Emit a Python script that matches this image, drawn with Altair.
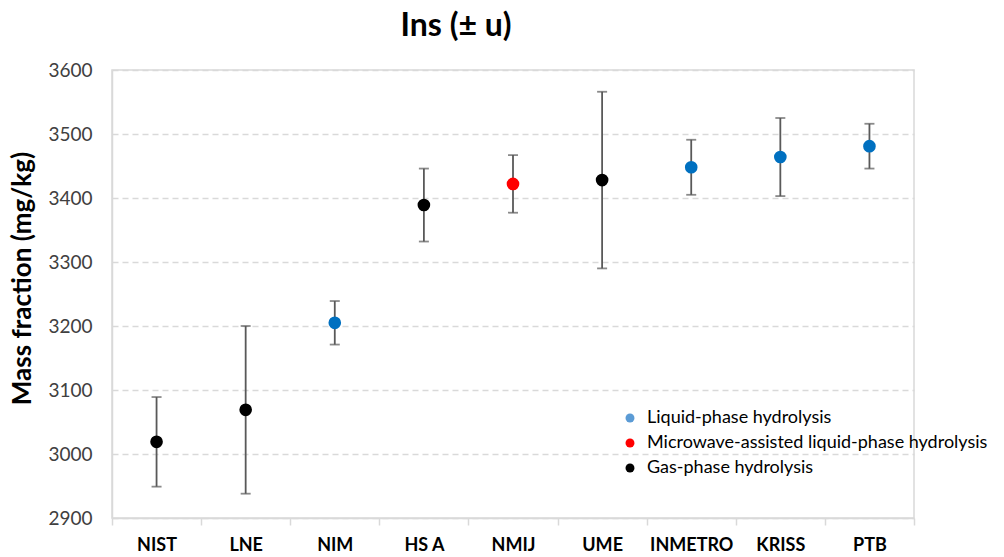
import altair as alt
import pandas as pd

labs = ["NIST", "LNE", "NIM", "HS A", "NMIJ", "UME", "INMETRO", "KRISS", "PTB"]
values = [3019, 3069, 3205, 3389, 3422, 3428, 3448, 3464, 3481]
uncert = [70, 131, 34, 57, 45, 138, 43, 61, 35]
methods = ["Gas-phase hydrolysis", "Gas-phase hydrolysis", "Liquid-phase hydrolysis",
           "Gas-phase hydrolysis", "Microwave-assisted liquid-phase hydrolysis",
           "Gas-phase hydrolysis", "Liquid-phase hydrolysis", "Liquid-phase hydrolysis",
           "Liquid-phase hydrolysis"]
method_order = ["Liquid-phase hydrolysis", "Microwave-assisted liquid-phase hydrolysis",
                "Gas-phase hydrolysis"]
point_colors = ["#0070C0", "#FF0000", "#000000"]
legend_colors = ["#5B9BD5", "#FF0000", "#000000"]

df = pd.DataFrame({"lab": labs, "value": values, "u": uncert, "method": methods})
df["low"] = df["value"] - df["u"]
df["high"] = df["value"] + df["u"]
df["pcolor"] = [point_colors[method_order.index(m)] for m in methods]

FONT = "Lato"

x = alt.X("lab:N", sort=labs, title=None,
          scale=alt.Scale(paddingInner=0, paddingOuter=0),
          axis=alt.Axis(labelAngle=0, labelFontWeight="bold", labelFontSize=18,
                        labelColor="#000000", labelPadding=11, tickBand="extent",
                        ticks=True, tickSize=7, tickColor="#d9d9d9", tickWidth=1.5,
                        domainColor="#d9d9d9", domainWidth=1.5, grid=False,
                        labelFont=FONT))
y_scale = alt.Scale(domain=[2900, 3600], nice=False, zero=False)
y_axis = alt.Axis(title="Mass fraction (mg/kg)", titleFontSize=26, titleFontWeight="bold",
                  titleColor="#000000", titlePadding=12, titleFont=FONT, titleY=208,
                  values=[2900, 3000, 3100, 3200, 3300, 3400, 3500, 3600], format="d",
                  labelFontSize=19, labelColor="#404040", labelPadding=20, labelFont=FONT,
                  ticks=False, domainColor="#d9d9d9", domainWidth=1.5,
                  grid=True, gridColor="#d9d9d9", gridDash=[6, 4], gridWidth=1.5)

base = alt.Chart(df)

rules = base.mark_rule(color="#595959", strokeWidth=1.8).encode(
    x=x, y=alt.Y("low:Q", scale=y_scale, axis=y_axis), y2="high:Q")
cap_lo = base.mark_tick(color="#595959", size=10, thickness=1.8).encode(
    x=x, y=alt.Y("low:Q", scale=y_scale))
cap_hi = base.mark_tick(color="#595959", size=10, thickness=1.8).encode(
    x=x, y=alt.Y("high:Q", scale=y_scale))

pts = base.mark_circle(size=160, opacity=1).encode(
    x=x, y=alt.Y("value:Q", scale=y_scale),
    color=alt.Color("pcolor:N", scale=None))

leg = base.mark_circle(size=150, opacity=0).encode(
    x=x, y=alt.Y("value:Q", scale=y_scale),
    color=alt.Color("method:N", sort=method_order,
                    scale=alt.Scale(domain=method_order, range=legend_colors),
                    legend=alt.Legend(title=None, orient="none", legendX=509, legendY=339,
                                      symbolType="circle", symbolSize=80, symbolOpacity=1,
                                      labelFontSize=18, labelColor="#000000", labelFont=FONT,
                                      labelLimit=500, rowPadding=7, labelOffset=8)))

chart = alt.layer(rules, cap_lo, cap_hi, pts, leg).resolve_scale(color="independent").properties(
    width=802, height=448,
    title=alt.TitleParams("Ins (\u00b1 u)", fontSize=32, fontWeight="bold", font=FONT,
                          color="#000000", anchor="middle", frame="group", dx=-57, offset=18),
    autosize=alt.AutoSizeParams(type="none"),
    padding={"left": 112, "top": 70, "right": 90, "bottom": 39},
).configure_view(stroke="#d9d9d9", strokeWidth=1.5)

chart.save("out.html", embed_options={"renderer": "svg", "actions": False})
